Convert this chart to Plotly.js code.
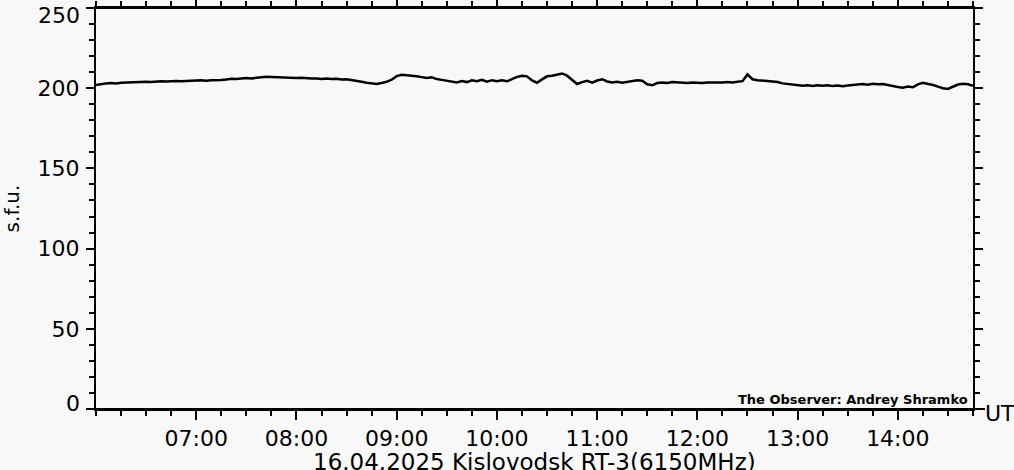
<!DOCTYPE html>
<html>
<head>
<meta charset="utf-8">
<script src="https://cdn.plot.ly/plotly-3.0.1.min.js"></script>
<style>
html,body{margin:0;padding:0;background:#f8f8f8;}
#chart{width:1014px;height:470px;}
</style>
</head>
<body>
<div id="chart"></div>
<script>
// Flux readings (s.f.u.), 3-minute samples, one array per hour (UT)
const day = "2025-04-16";
const stepMinutes = 3;
const h06 = [202.0,202.6,203.0,203.2,203.0,203.4,203.6,203.4,203.8,203.9,204.0,203.8,204.2,204.3,204.1,204.4,204.5,204.3,204.6,204.7];
const h07 = [204.8,204.9,204.7,205.0,204.9,205.1,205.4,205.9,205.7,206.0,206.3,206.1,206.5,206.8,207.2,207.0,206.8,206.9,206.6,206.4];
const h08 = [206.3,206.5,206.2,206.0,206.1,205.8,206.0,205.7,205.9,205.5,205.6,205.2,204.6,204.0,203.4,203.0,202.7,203.3,204.0,205.3];
const h09 = [207.5,208.4,208.2,207.6,207.4,206.9,206.4,206.8,205.7,205.2,204.6,204.2,203.6,204.4,203.8,204.9,204.3,205.2,204.0,205.0];
const h10 = [204.4,205.0,204.3,205.6,207.0,207.8,207.4,204.8,203.4,205.5,207.4,207.8,208.4,209.2,207.8,205.4,202.6,203.8,204.6,203.4];
const h11 = [204.8,205.6,204.2,203.6,204.0,203.4,203.9,204.2,205.0,204.6,202.4,201.8,203.2,203.6,203.2,203.8,203.5,203.6,203.3,203.5];
const h12 = [203.4,203.2,203.6,203.5,203.7,203.6,203.9,203.6,204.0,204.4,208.6,205.6,205.0,204.8,204.6,204.0,203.8,203.0,202.6,202.3];
const h13 = [202.0,201.6,201.9,201.4,201.8,201.5,201.9,201.3,201.6,201.2,201.7,202.0,202.3,202.6,202.2,202.8,202.4,202.6,202.0,201.6];
const h14 = [200.8,200.3,201.0,200.6,202.4,203.4,202.8,202.0,201.0,200.0,199.5,200.8,202.3,202.8,202.4,201.5];
const hours = [6,7,8,9,10,11,12,13,14];
const hourly = [h06,h07,h08,h09,h10,h11,h12,h13,h14];

const tickLabels = ["07:00","08:00","09:00","10:00","11:00","12:00","13:00","14:00"];
const yTicks = [0,50,100,150,200,250];
const xTitle = "16.04.2025 Kislovodsk RT-3(6150MHz)";

const pad = n => String(n).padStart(2,"0");
const x = [], y = [];
hourly.forEach((arr, k) => {
  arr.forEach((v, i) => {
    x.push(`${day} ${pad(hours[k])}:${pad(i*stepMinutes)}`);
    y.push(v);
  });
});

const font = {family: "DejaVu Sans", size: 22, color: "#000"};

const trace = {
  x: x, y: y, type: "scatter", mode: "lines",
  line: {color: "#000", width: 2.5},
  hoverinfo: "skip"
};

// End labels (0 and 250) are nudged inward, as in the reference
const yText = yTicks.map((v, i) => (i === 0 || i === yTicks.length - 1) ? "" : String(v));
const endLabels = [
  {v: yTicks[0], shift: 6},
  {v: yTicks[yTicks.length - 1], shift: -7}
].map(e => ({
  text: String(e.v), xref: "paper", yref: "y", x: 0, y: e.v, xanchor: "right", yanchor: "middle",
  xshift: -14, yshift: e.shift, showarrow: false, font: font
}));

const layout = {
  width: 1014, height: 470,
  paper_bgcolor: "#f8f8f8", plot_bgcolor: "#f8f8f8",
  margin: {l: 96, r: 41, t: 8, b: 61},
  showlegend: false,
  font: font,
  xaxis: {
    type: "date",
    range: [`${day} 06:00`, `${day} 14:45`],
    tickmode: "array",
    tickvals: tickLabels.map(t => `${day} ${t}`),
    ticktext: tickLabels,
    ticks: "outside", ticklen: 9, tickwidth: 2, tickcolor: "#000",
    minor: {dtick: 900000, tick0: `${day} 06:00`, ticks: "outside", ticklen: 5, tickwidth: 2, tickcolor: "#000", showgrid: false},
    showline: true, linecolor: "#000", linewidth: 2, mirror: "allticks",
    showgrid: false, zeroline: false,
    tickfont: font,
    ticklabelstandoff: 0,
    automargin: false
  },
  yaxis: {
    range: [0, 250],
    tickmode: "array", tickvals: yTicks, ticktext: yText,
    ticks: "outside", ticklen: 8, tickwidth: 2, tickcolor: "#000",
    minor: {dtick: 10, ticks: "outside", ticklen: 5, tickwidth: 2, tickcolor: "#000", showgrid: false},
    showline: true, linecolor: "#000", linewidth: 2, mirror: "allticks",
    showgrid: false, zeroline: false,
    tickfont: font,
    ticklabelstandoff: 2,
    title: {text: "s.f.u.", font: {family: "DejaVu Sans", size: 20, color: "#000"}, standoff: 14},
    automargin: false
  },
  shapes: [
    {type: "line", xref: "paper", yref: "paper", x0: -0.009, x1: 1.0137, y0: 0, y1: 0, line: {color: "#000", width: 2}, layer: "above"},
    {type: "line", xref: "paper", yref: "paper", x0: -0.008, x1: 1.0114, y0: 1, y1: 1, line: {color: "#000", width: 2}, layer: "above"}
  ],
  annotations: endLabels.concat([
    {text: xTitle, xref: "paper", yref: "paper", x: 0.5, y: 0, xanchor: "center", yanchor: "top", yshift: -38, showarrow: false,
     font: {family: "DejaVu Sans", size: 23, color: "#000"}},
    {text: "UT", xref: "paper", yref: "paper", x: 1.0165, y: 0, xanchor: "left", yanchor: "middle", xshift: -4, yshift: -4, showarrow: false, font: font},
    {text: "The Observer: Andrey Shramko", xref: "paper", yref: "paper", x: 0.9966, y: 0.0075, xanchor: "right", yanchor: "bottom", yshift: -3, showarrow: false,
     font: {family: "DejaVu Sans", size: 13, color: "#000", weight: "bold"}}
  ])
};

Plotly.newPlot("chart", [trace], layout, {displayModeBar: false, staticPlot: true});
</script>
</body>
</html>
